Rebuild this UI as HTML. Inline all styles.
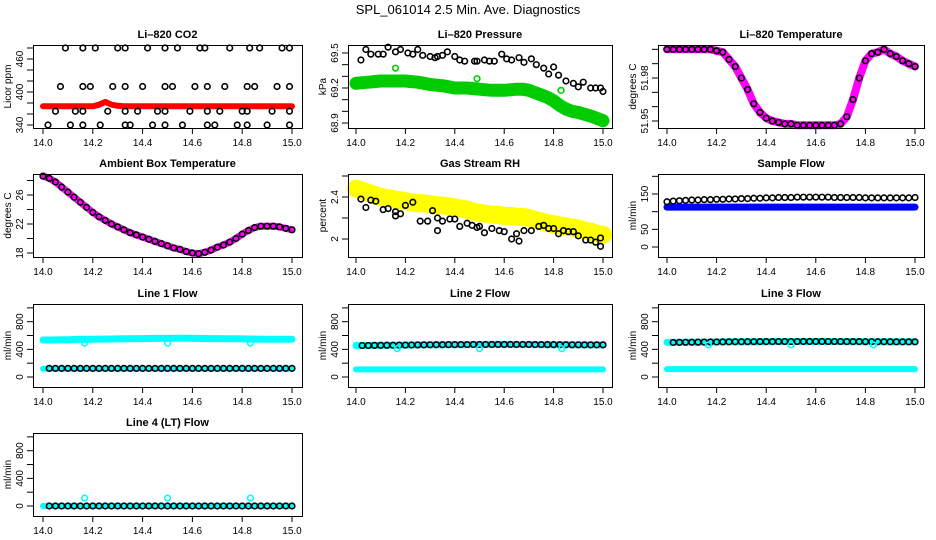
<!DOCTYPE html>
<html><head><meta charset="utf-8">
<style>
html,body{margin:0;padding:0;background:#fff;}
svg{display:block;font-family:"Liberation Sans",Arial,sans-serif;}
</style></head>
<body>
<svg id="chart" width="936" height="540" viewBox="0 0 936 540">
<text x="468" y="14" text-anchor="middle" font-size="13">SPL_061014  2.5 Min. Ave. Diagnostics</text>
</svg>
<script>
const T41=[14,14.025,14.05,14.075,14.1,14.125,14.15,14.175,14.2,14.225,14.25,14.275,14.3,14.325,14.35,14.375,14.4,14.425,14.45,14.475,14.5,14.525,14.55,14.575,14.6,14.625,14.65,14.675,14.7,14.725,14.75,14.775,14.8,14.825,14.85,14.875,14.9,14.925,14.95,14.975,15];
const xTicks=[14.0,14.2,14.4,14.6,14.8,15.0];
const xTickLabels=["14.0","14.2","14.4","14.6","14.8","15.0"];

// CO2
const co2Band=[374,374,374,374,374,374,374,374,374,377,382,377,375,374,374,374,374,374,374,374,374,374,374,374,374,374,374,374,374,374,374,374,374,374,374,374,374,374,374,374,374];
const co2X=[14.09,14.16,14.21,14.30,14.33,14.42,14.49,14.54,14.63,14.65,14.75,14.83,14.87,14.96,14.99,
14.07,14.16,14.19,14.28,14.33,14.40,14.49,14.52,14.61,14.66,14.73,14.82,14.85,14.94,14.99,
14.05,14.13,14.16,14.26,14.33,14.38,14.46,14.49,14.59,14.66,14.71,14.80,14.82,14.92,14.99,
14.02,14.11,14.16,14.23,14.33,14.35,14.44,14.49,14.56,14.66,14.69,14.78,14.82,14.90,14.99];
const co2Y=[480,480,480,480,480,480,480,480,480,480,480,480,480,480,480,
410,410,410,410,410,410,410,410,410,410,410,410,410,410,410,
365,365,365,365,365,365,365,365,365,365,365,365,365,365,365,
340,340,340,340,340,340,340,340,340,340,340,340,340,340,340];

// Pressure
const presBand=[69.24,69.245,69.25,69.255,69.26,69.26,69.26,69.26,69.26,69.255,69.25,69.24,69.23,69.225,69.22,69.21,69.2,69.2,69.2,69.195,69.19,69.185,69.18,69.18,69.18,69.185,69.19,69.19,69.18,69.16,69.14,69.12,69.09,69.05,69.02,69.0,68.99,68.975,68.96,68.94,68.92];
const presX=[14.02,14.04,14.06,14.09,14.11,14.13,14.16,14.18,14.21,14.23,14.25,14.27,14.30,14.32,14.33,14.35,14.37,14.40,14.42,14.44,
14.48,14.49,14.52,14.54,14.56,14.59,14.61,14.63,14.66,14.68,14.71,14.73,14.76,14.78,14.80,14.82,14.85,14.88,14.90,14.92,14.95,14.97,14.99,15.0];
const presY=[69.44,69.53,69.49,69.49,69.49,69.55,69.51,69.53,69.50,69.49,69.53,69.48,69.47,69.46,69.47,69.48,69.51,69.47,69.44,69.43,
69.43,69.43,69.44,69.43,69.43,69.49,69.45,69.44,69.46,69.42,69.45,69.40,69.37,69.32,69.38,69.31,69.26,69.24,69.21,69.25,69.20,69.20,69.20,69.17];
const presOutX=[14.16,14.49,14.83];
const presOutY=[69.37,69.28,69.18];

// Li-820 temperature
const tempBand=[52.0,52.0,52.0,52.0,52.0,52.0,52.0,52.0,51.999,51.998,51.993,51.988,51.980,51.972,51.962,51.956,51.952,51.950,51.949,51.948,51.948,51.947,51.947,51.947,51.947,51.947,51.947,51.947,51.948,51.953,51.965,51.980,51.992,51.997,51.998,52.0,51.997,51.995,51.992,51.990,51.988];

// Ambient box temperature
const ambBand=[28.6,28.3,27.8,27.1,26.4,25.7,25.0,24.3,23.6,23.0,22.5,22.0,21.6,21.2,20.8,20.5,20.2,19.9,19.6,19.3,19.0,18.7,18.5,18.2,18.0,17.9,18.1,18.4,18.8,19.1,19.5,20.0,20.6,21.1,21.5,21.7,21.7,21.7,21.6,21.4,21.2];

// Gas stream RH
const rhBand=[2.48,2.46,2.44,2.42,2.40,2.39,2.38,2.37,2.36,2.35,2.34,2.34,2.33,2.32,2.32,2.31,2.30,2.29,2.28,2.26,2.25,2.24,2.23,2.23,2.22,2.22,2.21,2.21,2.20,2.18,2.17,2.15,2.14,2.13,2.12,2.11,2.10,2.08,2.07,2.05,2.04];
const rhX=[14.02,14.04,14.06,14.08,14.11,14.13,14.16,14.16,14.18,14.20,14.23,14.26,14.29,14.31,14.33,14.33,14.35,14.38,14.40,14.42,14.45,14.47,14.49,14.50,14.52,14.55,14.58,14.60,14.63,14.65,14.66,14.68,14.71,14.74,14.76,14.78,14.80,14.82,14.84,14.86,14.88,14.90,14.93,14.95,14.97,14.99,14.99];
const rhY=[2.38,2.30,2.37,2.36,2.28,2.29,2.26,2.22,2.24,2.32,2.35,2.17,2.17,2.27,2.20,2.08,2.17,2.19,2.19,2.12,2.15,2.13,2.11,2.12,2.06,2.10,2.08,2.07,2.00,2.05,1.98,2.08,2.08,2.12,2.13,2.10,2.10,2.05,2.08,2.07,2.07,2.03,1.99,1.99,1.97,2.01,1.93];

// Sample flow
const sampleBlue=[113,113,113,113,113,113,113,113,113,113,113,113,113,113,113,113,113,113,113,113,113,113,113,113,113,113,113,113,113,113,113,113,113,113,113,113,113,113,113,113,113];
const sampleBlack=[128,130,131,132,133,133,134,134,135,135,136,136,137,137,138,138,139,139,140,140,140,141,141,141,141,141,141,140,140,140,140,140,139,139,139,139,139,139,139,139,140];

// Line flows
const line1Upper=[535,535,536,538,540,542,545,546,547,548,549,550,551,552,553,555,556,557,558,558,559,560,560,560,559,558,557,556,555,554,553,552,551,550,549,548,547,546,546,545,545];
const line1Lower=[118,118,118,118,118,118,118,118,118,118,118,118,118,118,118,118,118,118,118,118,118,118,118,118,118,118,118,118,118,118,118,118,118,118,118,118,118,118,118,118,118];
const line1Black=[125,125,125,125,125,125,125,125,125,125,125,125,125,125,125,125,125,125,125,125,125,125,125,125,125,125,125,125,125,125,125,125,125,125,125,125,125,125,125,125,125];
const line2Upper=[455,455,456,457,458,459,460,461,462,463,464,465,466,467,467,468,468,469,469,470,470,470,471,471,471,471,470,470,470,469,469,468,468,467,467,466,466,465,465,465,465];
const line2Lower=[110,110,110,110,110,110,110,110,110,110,110,110,110,110,110,110,110,110,110,110,110,110,110,110,110,110,110,110,110,110,110,110,110,110,110,110,110,110,110,110,110];
const line3Upper=[500,500,501,502,503,504,505,506,507,508,509,510,510,511,511,512,512,512,513,513,513,513,514,514,514,514,513,513,513,512,512,512,511,511,510,510,510,509,509,509,509];
const line3Lower=[115,115,115,115,115,115,115,115,115,115,115,115,115,115,115,115,115,115,115,115,115,115,115,115,115,115,115,115,115,115,115,115,115,115,115,115,115,115,115,115,115];
const line4Vals=[0,0,0,0,0,0,0,0,0,0,0,0,0,0,0,0,0,0,0,0,0,0,0,0,0,0,0,0,0,0,0,0,0,0,0,0,0,0,0,0,0];
const outX=[14.167,14.5,14.833];
const line1Out=[490,490,490];
const line2Out=[410,410,410];
const line3Out=[465,465,465];
const line4Out=[115,115,115];

const NS="http://www.w3.org/2000/svg";
const svg=document.getElementById('chart');
function mk(tag,attrs,parent){const e=document.createElementNS(NS,tag);for(const k in attrs)e.setAttribute(k,attrs[k]);parent.appendChild(e);return e;}

const cols=[{bx:33,bw:269,x0:43,x1:292},{bx:348,bw:264,x0:356,x1:603},{bx:658,bw:266,x0:667,x1:915}];
const rows=[45,174,304,433];
const BH=83;

function makePanel(name,title,ci,ri,yA,yB,yTicks,yLabels,yTitle){
  const c=cols[ci],by=rows[ri];
  const g=mk('g',{},svg);
  
  
  const xs=v=>c.x0+(v-14)*(c.x1-c.x0);
  const ys=v=>yA[1]+(v-yA[0])*(yB[1]-yA[1])/(yB[0]-yA[0]);
  const t=mk('text',{x:c.bx+c.bw/2,y:by-7,'text-anchor':'middle','font-size':11,'font-weight':'bold'},g);
  t.textContent=title;
  
  
  const plot=mk('g',{},g);
  
  
  const box=mk('rect',{x:c.bx+0.5,y:by+0.5,width:c.bw,height:BH,fill:'none',stroke:'#000','stroke-width':1},g);
  
  
  xTicks.forEach((v,i)=>{
    const x=xs(v);
    const l=mk('line',{x1:x,x2:x,y1:by+BH,y2:by+BH+6,stroke:'#000'},g);
    
    
    const tx=mk('text',{x:x,y:by+BH+18,'text-anchor':'middle','font-size':10},g);
    tx.textContent=xTickLabels[i];
    
    
  });
  yTicks.forEach(v=>{
    const y=ys(v);
    const l=mk('line',{x1:c.bx-6,x2:c.bx,y1:y,y2:y,stroke:'#000'},g);
    
    
  });
  yLabels.forEach(v=>{
    const y=ys(v);
    const tx=mk('text',{x:c.bx-10,y:y,'text-anchor':'middle','font-size':10,transform:`rotate(-90 ${c.bx-10} ${y})`},g);
    tx.textContent=String(v);
    
    
  });
  const yt=mk('text',{x:c.bx-22,y:by+BH/2,'text-anchor':'middle','font-size':10,transform:`rotate(-90 ${c.bx-22} ${by+BH/2})`},g);
  yt.textContent=yTitle;
  
  
  return {plot,xs,ys};
}
function band(p,X,Y,color,w){
  const pts=X.map((x,i)=>p.xs(x).toFixed(1)+','+p.ys(Y[i]).toFixed(1)).join(' ');
  const e=mk('polyline',{points:pts,fill:'none',stroke:color,'stroke-width':w,'stroke-linecap':'round','stroke-linejoin':'round'},p.plot);
  
  
}
function circles(p,X,Y,color,r,sw){
  X.forEach((x,i)=>{
    const e=mk('circle',{cx:p.xs(x),cy:p.ys(Y[i]),r:r||2.8,fill:'none',stroke:color,'stroke-width':sw||1.6},p.plot);
    
    
  });
}

let p;
p=makePanel('panel-co2','Li\u2013820 CO2',0,0,[340,125],[480,48],[340,360,380,400,420,440,460,480],[340,400,460],'Licor ppm');
band(p,T41,co2Band,'#ff0000',6);circles(p,co2X,co2Y,'#000');

p=makePanel('panel-pressure','Li\u2013820 Pressure',1,0,[68.9,123],[69.5,53],[68.9,69.0,69.1,69.2,69.3,69.4,69.5],[68.9,69.2,69.5],'kPa');
band(p,T41,presBand,'#00cc00',13);circles(p,presX,presY,'#000');circles(p,presOutX,presOutY,'#00cc00');

p=makePanel('panel-li820-temp','Li\u2013820 Temperature',2,0,[51.95,121],[51.98,78],[51.95,51.96,51.97,51.98,51.99,52.0],[51.95,51.98],'degrees C');
band(p,T41,tempBand,'#ff00ff',8);circles(p,T41,tempBand,'#000');

p=makePanel('panel-ambient-temp','Ambient Box Temperature',0,1,[18,253],[26,195],[18,20,22,24,26,28],[18,22,26],'degrees C');
band(p,T41,ambBand,'#ff00ff',7);circles(p,T41,ambBand,'#000');

p=makePanel('panel-gas-rh','Gas Stream RH',1,1,[2.0,239],[2.4,197],[2.0,2.2,2.4,2.6],[2.0,2.4],'percent');
band(p,T41,rhBand,'#ffff00',18);circles(p,rhX,rhY,'#000');

p=makePanel('panel-sample-flow','Sample Flow',2,1,[0,247],[150,194],[0,50,100,150,200],[0,50,150],'ml/min');
band(p,T41,sampleBlue,'#0000ff',7);circles(p,T41,sampleBlack,'#000');

const flowTicks=[0,200,400,600,800,1000],flowLabels=[0,400,800];
p=makePanel('panel-line1-flow','Line 1 Flow',0,2,[0,377],[800,321.7],flowTicks,flowLabels,'ml/min');
band(p,T41,line1Upper,'#00ffff',7);band(p,T41,line1Lower,'#00ffff',6);circles(p,T41.slice(1),line1Black.slice(1),'#000');circles(p,outX,line1Out,'#00ffff');

p=makePanel('panel-line2-flow','Line 2 Flow',1,2,[0,377],[800,321.7],flowTicks,flowLabels,'ml/min');
band(p,T41,line2Upper,'#00ffff',7);band(p,T41,line2Lower,'#00ffff',6);circles(p,T41.slice(1),line2Upper.slice(1),'#000');circles(p,outX,line2Out,'#00ffff');

p=makePanel('panel-line3-flow','Line 3 Flow',2,2,[0,377],[800,321.7],flowTicks,flowLabels,'ml/min');
band(p,T41,line3Upper,'#00ffff',7);band(p,T41,line3Lower,'#00ffff',6);circles(p,T41.slice(1),line3Upper.slice(1),'#000');circles(p,outX,line3Out,'#00ffff');

p=makePanel('panel-line4-flow','Line 4 (LT) Flow',0,3,[0,506],[800,450.7],flowTicks,flowLabels,'ml/min');
band(p,T41,line4Vals,'#00ffff',6);circles(p,T41.slice(1),line4Vals.slice(1),'#000');circles(p,outX,line4Out,'#00ffff');
</script>
</body></html>
